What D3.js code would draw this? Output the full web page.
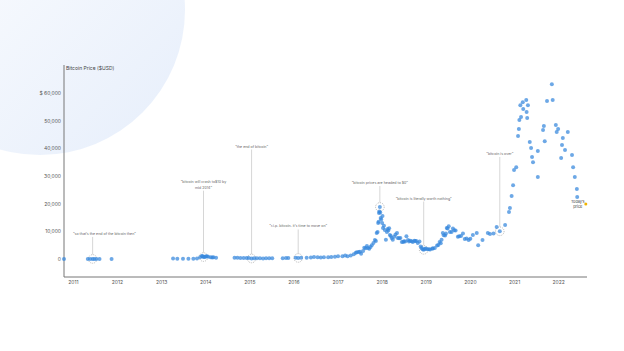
<!DOCTYPE html>
<html>
<head>
<meta charset="utf-8">
<script src="https://cdn.jsdelivr.net/npm/d3@7"></script>
<style>
  body { margin: 0; background: #fff; }
  svg { display: block; font-family: Inter, "Noto Sans", sans-serif; }
</style>
</head>
<body>
<svg class="chart" width="624" height="351"></svg>
<script>
// price samples
let dates = [
  "2010-10-20","2011-05-05","2011-05-25","2011-06-14","2011-06-28","2011-07-15","2011-08-10","2011-11-18",
  "2013-04-10","2013-05-15","2013-07-01","2013-08-15","2013-09-25","2013-10-25","2013-11-20","2013-12-05",
  "2013-12-18","2014-01-05","2014-01-25","2014-02-15","2014-03-10","2014-04-01",
  "2014-09-01","2014-09-25","2014-10-20","2014-11-15","2014-12-10","2014-12-28","2015-01-20","2015-02-10",
  "2015-03-05","2015-03-30","2015-04-25","2015-05-20","2015-06-15","2015-07-10","2015-10-05","2015-11-01",
  "2015-11-20","2016-01-20","2016-02-10","2016-03-05","2016-04-20","2016-05-25","2016-06-20","2016-07-20",
  "2016-09-10","2016-10-15","2016-11-10","2016-12-10","2017-01-05","2017-02-10","2017-03-05","2017-03-25",
  "2017-04-20","2017-05-15","2017-06-10","2017-06-25","2017-07-15","2017-07-31","2017-08-20","2017-09-09",
  "2017-09-20","2017-10-11","2017-10-25","2017-11-06","2017-11-21","2017-11-28","2017-12-03","2017-12-10",
  "2017-12-17","2017-12-24","2017-12-28","2018-01-05","2018-01-12","2018-01-27","2018-02-05","2018-02-13",
  "2018-02-25","2018-03-10","2018-03-25","2018-04-03","2018-04-15","2018-05-08","2018-05-14","2018-06-17",
  "2018-07-05","2018-07-25","2018-08-07","2018-08-25","2018-09-16","2018-10-05","2018-10-27","2018-11-10",
  "2018-11-29","2018-12-15","2018-12-25","2019-01-15","2019-02-06","2019-02-25","2019-03-17","2019-04-05",
  "2019-04-26","2019-05-12","2019-05-22","2019-06-10","2019-06-24","2019-07-01","2019-07-20","2019-08-03",
  "2019-08-14","2019-09-05","2019-09-24","2019-10-20","2019-11-20","2019-12-22","2020-01-05","2020-01-26",
  "2020-02-27","2020-03-10","2020-04-15","2020-05-29","2020-06-16","2020-07-15","2020-08-10","2020-09-05",
  "2020-10-19","2020-11-20","2020-11-28","2020-12-12","2020-12-24","2021-01-01","2021-01-19","2021-02-03",
  "2021-02-10","2021-02-14","2021-02-28","2021-02-22","2021-03-14","2021-03-18","2021-04-15","2021-04-12",
  "2021-04-26","2021-04-20","2021-05-11","2021-05-22","2021-05-30","2021-06-07","2021-07-17","2021-07-17",
  "2021-08-29","2021-09-05","2021-09-12","2021-10-01","2021-11-10","2021-11-17","2021-12-13","2021-12-20",
  "2022-01-01","2022-01-26","2022-02-02","2022-02-09","2022-02-27","2022-03-22","2022-04-26","2022-05-05",
  "2022-05-19","2022-06-05","2022-06-08",
  // extra samples in the busy 2013-2019 stretch
  "2013-12-10","2013-12-28","2014-01-15","2014-02-28",
  "2016-08-15","2017-06-01","2017-07-05","2017-08-10","2017-09-01","2017-10-01",
  "2017-11-14","2017-12-07","2017-12-13","2017-12-20","2018-01-08","2018-01-20","2018-02-20","2018-03-04",
  "2018-03-18","2018-04-25","2018-05-25","2018-06-05","2018-06-28","2018-07-15","2018-08-15","2018-09-05",
  "2018-09-28","2018-10-15","2018-11-20","2018-12-05","2019-01-01","2019-01-28","2019-03-01","2019-04-15",
  "2019-05-05","2019-05-30","2019-06-17","2019-07-10","2019-08-25","2019-10-05","2019-11-05","2019-12-05"
];
let prices = [
  0,8,8,18,16,14,10,3,
  140,120,90,110,130,190,600,1100,
  700,900,850,650,620,480,
  480,410,380,370,350,320,180,230,
  270,250,225,235,245,280,240,320,
  330,430,380,415,440,530,730,670,
  610,640,710,770,1000,1000,1270,960,
  1230,1750,2400,2550,1900,2900,3900,4000,
  3700,5000,5800,6900,9400,9800,13000,16600,
  18800,14800,14300,13000,11200,10500,7000,9800,
  10300,8700,7600,7000,8000,9400,7600,6100,
  6400,8200,6900,6600,6100,6500,5800,6300,
  4000,3300,3600,3500,3400,3800,4000,4900,
  6100,7000,9400,8500,11200,11000,9800,9800,
  11000,10300,8000,8300,7200,6900,7300,8700,
  9400,5000,6900,9400,9000,9200,11600,10000,
  12300,17000,18400,22800,26700,32200,33200,44500,
  47000,50200,51300,55600,56700,54200,53100,57500,
  55600,51000,42300,40100,36900,35000,29600,39000,
  46600,48100,42600,57100,63200,57500,48400,45900,
  47000,36500,41200,43700,39400,45900,37600,33200,
  29600,25300,22400,
  1000,750,950,580,
  580,2300,2600,4100,4700,4300,
  6500,13500,17200,16800,15500,12000,10800,11100,
  8300,8900,7500,7600,6100,6300,6300,6400,
  6600,6500,4500,3500,3800,3500,3800,5100,
  5700,8600,9200,11800,10400,8200,9200,7400
];
let todayDate = "2022-08-18";
let todayPrice = 19900;

let yTicks = [0, 10000, 20000, 30000, 40000, 50000, 60000];

// quotes: date of the marked point, its price, quote lines, height of the quote (in $)
let annDates = ["2011-06-14", "2013-12-18", "2015-01-20", "2016-02-10", "2017-12-17", "2018-12-15", "2020-09-05"];
let annPrices = [18, 700, 180, 380, 18800, 3300, 10000];
let annTexts = [
  ["\u201cso that\u2019s the end of the bitcoin then\u201d"],
  ["\u201cbitcoin will crash to$10 by", "mid 2014\u201d"],
  ["\u201cthe end of bitcoin\u201d"],
  ["\u201cr.i.p. bitcoin. it\u2019s time to move on\u201d"],
  ["\u201cbitcoin prices are headed to $0\u201d"],
  ["\u201cbitcoin is literally worth nothing\u201d"],
  ["\u201cbitcoin is over\u201d"]
];
let annLabelPrices = [8700, 27300, 40300, 11400, 27100, 21500, 37600];

let parse = d3.timeParse("%Y-%m-%d");
let data = dates.map((d, i) => ({ date: parse(d), price: prices[i] }));

let svg = d3.select("svg.chart");

// soft circle in the corner
let defs = svg.append("defs");
let grad = defs.append("linearGradient").attr("id", "bg")
  .attr("x1", "0").attr("y1", "0").attr("x2", "1").attr("y2", "1");
grad.append("stop").attr("offset", "0").attr("stop-color", "#ffffff");
grad.append("stop").attr("offset", "1").attr("stop-color", "#e6eefb");
svg.append("circle").attr("cx", 40).attr("cy", 10).attr("r", 145).attr("fill", "url(#bg)");

let x = d3.scaleTime()
  .domain([parse("2010-10-20"), parse("2022-08-28")])
  .range([64, 587]);
let y = d3.scaleLinear()
  .domain([0, 60000])
  .range([259, 93]);

// axis lines
svg.append("line").attr("x1", 64).attr("x2", 64).attr("y1", 65).attr("y2", 277)
  .attr("stroke", "#777").attr("stroke-width", 1);
svg.append("line").attr("x1", 64).attr("x2", 587).attr("y1", 277).attr("y2", 277)
  .attr("stroke", "#777").attr("stroke-width", 1);

let yAxis = d3.axisLeft(y).tickValues(yTicks).tickSize(0).tickPadding(3)
  .tickFormat(d => d === 60000 ? "$ 60,000" : d3.format(",")(d));
let yGroup = svg.append("g").attr("transform", translate(64, 0)).call(yAxis);
yGroup.select(".domain").remove();
yGroup.selectAll("text").attr("fill", "#555").style("font-size", "5px").style("font-family", "Inter, sans-serif");

let xAxis = d3.axisBottom(x).ticks(d3.timeYear.every(1)).tickSize(0).tickPadding(3.5)
  .tickFormat(d3.timeFormat("%Y"));
let xGroup = svg.append("g").attr("transform", translate(0, 277)).call(xAxis);
xGroup.select(".domain").remove();
xGroup.selectAll("text").attr("fill", "#555").style("font-size", "5px").style("font-family", "Inter, sans-serif");

svg.append("text").attr("x", 66).attr("y", 70)
  .attr("fill", "#444").style("font-size", "5px")
  .text("Bitcoin Price ($USD)");

// annotations
annDates.forEach(function(d, i) {
  let px = x(parse(d));
  let py = y(annPrices[i]);
  let ly = y(annLabelPrices[i]);
  let lines = annTexts[i];
  let t = svg.append("text").attr("x", px).attr("y", ly)
    .attr("text-anchor", "middle").attr("fill", "#666").style("font-size", "3.6px");
  lines.forEach(function(l, j) {
    t.append("tspan").attr("x", px).attr("dy", j === 0 ? 0 : 5.2).text(l);
  });
  // keep quotes clear of the y axis
  let box = t.node().getBBox();
  if (box.x < 73) {
    let cx = px + (73 - box.x);
    t.selectAll("tspan").attr("x", cx);
  }
  let bottom = ly + 2 + (lines.length - 1) * 5.2;
  svg.append("line").attr("x1", px).attr("x2", px).attr("y1", bottom).attr("y2", py - 4.5)
    .attr("stroke", "#c4c4c4").attr("stroke-width", 0.7);
  svg.append("circle").attr("cx", px).attr("cy", py).attr("r", 4.3)
    .attr("fill", "none").attr("stroke", "#777").attr("stroke-width", 0.5)
    .attr("stroke-dasharray", "1,1");
});

// dots
svg.append("g").selectAll("circle")
  .data(data)
  .enter().append("circle")
  .attr("cx", d => x(d.date))
  .attr("cy", d => y(d.price))
  .attr("r", 2)
  .attr("fill", "#3586dc")
  .attr("fill-opacity", 0.72);

// today's price
svg.append("circle")
  .attr("cx", x(parse(todayDate))).attr("cy", y(todayPrice)).attr("r", 1.5)
  .attr("fill", "#f0b400");
let tt = svg.append("text").attr("x", x(parse(todayDate)) - 8).attr("y", y(todayPrice) - 1)
  .attr("text-anchor", "middle").attr("fill", "#444").style("font-size", "3.8px");
tt.append("tspan").attr("x", x(parse(todayDate)) - 8).attr("dy", 0).text("Today\u2019s");
tt.append("tspan").attr("x", x(parse(todayDate)) - 8).attr("dy", 5).text("price");

function translate(x, y) {
  return 'translate(' + x + ',' + y + ')';
}
</script>
</body>
</html>
